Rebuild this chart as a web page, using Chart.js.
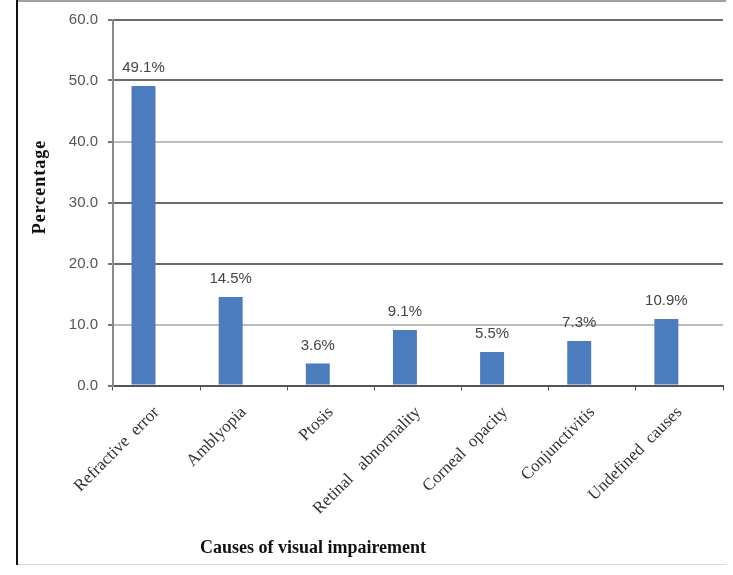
<!DOCTYPE html>
<html>
<head>
<meta charset="utf-8">
<script src="https://cdn.jsdelivr.net/npm/chart.js@4.4.1/dist/chart.umd.min.js"></script>
<style>
html,body{margin:0;padding:0;background:#fff;}
#wrap{position:relative;width:733px;height:575px;}
</style>
</head>
<body>
<div id="wrap"><canvas id="c" width="733" height="575"></canvas></div>
<script>
const categories = ["Refractive  error", "Amblyopia", "Ptosis", "Retinal   abnormality", "Corneal  opacity", "Conjunctivitis", "Undefined  causes"];
const percentages = [49.1, 14.5, 3.6, 9.1, 5.5, 7.3, 10.9];
const emptySeries = [null, null, null, null, null, null, null];
const yTicks = [0, 10, 20, 30, 40, 50, 60];
const yTitle = "Percentage";
const xTitle = "Causes of visual impairement";

const darkGrid = "#6c6c6c", lightGrid = "#bdbdbd";
function gridColor(v){ return (v === 40 || v === 10) ? lightGrid : darkGrid; }

const framePlugin = {
  id: 'frame',
  beforeDraw(chart){
    const ctx = chart.ctx;
    ctx.save();
    ctx.fillStyle = '#fff';
    ctx.fillRect(0,0,chart.width,chart.height);
    ctx.fillStyle = '#a0a0a0';
    ctx.fillRect(16,0,710,2);
    ctx.fillStyle = '#d8d8d8';
    ctx.fillRect(16,564,710,1);
    ctx.fillStyle = '#111';
    ctx.fillRect(16,0,2,565);
    ctx.restore();
  },
  afterDraw(chart){
    const ctx = chart.ctx;
    ctx.save();
    ctx.fillStyle = '#111';
    ctx.font = 'bold 18px "Liberation Serif", "Times New Roman", serif';
    ctx.textAlign = 'center';
    ctx.textBaseline = 'middle';
    ctx.fillText(xTitle, 313, 548);
    ctx.translate(40, 187);
    ctx.rotate(-Math.PI/2);
    ctx.letterSpacing = '1px';
    ctx.fillText(yTitle, 0, 0);
    ctx.restore();
  }
};

const labelPlugin = {
  id: 'barLabels',
  afterDatasetsDraw(chart){
    const ctx = chart.ctx;
    const meta = chart.getDatasetMeta(0);
    ctx.save();
    ctx.fillStyle = '#454545';
    ctx.font = '15px "Liberation Sans", Arial, sans-serif';
    ctx.textAlign = 'center';
    ctx.textBaseline = 'alphabetic';
    meta.data.forEach((bar, i) => {
      ctx.fillText(percentages[i].toFixed(1) + '%', bar.x, bar.y - 14);
    });
    ctx.restore();
  }
};

new Chart(document.getElementById('c'), {
  type: 'bar',
  data: {
    labels: categories,
    datasets: [
      { data: percentages, backgroundColor: '#4a7cbe', categoryPercentage: 0.6, barPercentage: 0.916 },
      { data: emptySeries, backgroundColor: '#c0504d', categoryPercentage: 0.6, barPercentage: 0.916 }
    ]
  },
  options: {
    responsive: false,
    animation: false,
    devicePixelRatio: 1,
    layout: { padding: { top: 19.5, right: 10, left: 0, bottom: 0 } },
    plugins: { legend: { display: false }, tooltip: { enabled: false } },
    scales: {
      x: {
        afterFit(scale){ scale.height = 189.5; },
        grid: { offset: true, drawOnChartArea: false, tickLength: 5, color: '#555', lineWidth: 1 },
        border: { color: '#555', width: 2 },
        ticks: {
          autoSkip: false, minRotation: 45, maxRotation: 45, padding: 12,
          color: '#333', font: { family: '"Liberation Serif", "Times New Roman", serif', size: 17 }
        }
      },
      y: {
        min: 0, max: 60,
        afterFit(scale){ scale.width = 113; },
        afterBuildTicks(scale){ scale.ticks = yTicks.map(v => ({ value: v })); },
        grid: {
          color: ctx => ctx.tick ? gridColor(ctx.tick.value) : darkGrid,
          tickColor: '#777', tickLength: 5, lineWidth: 2
        },
        border: { color: '#8a8a8a', width: 2 },
        ticks: {
          padding: 10, color: '#555',
          font: { family: '"Liberation Sans", Arial, sans-serif', size: 15 },
          callback: v => Number(v).toFixed(1)
        }
      }
    }
  },
  plugins: [framePlugin, labelPlugin]
});
</script>
</body>
</html>
